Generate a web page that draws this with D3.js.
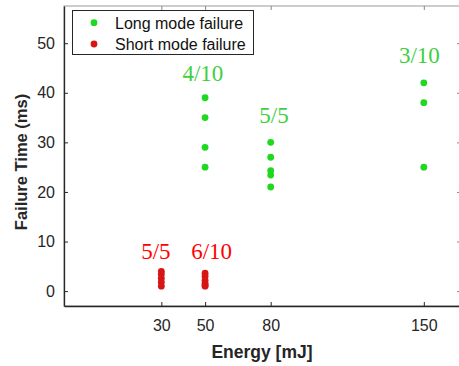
<!DOCTYPE html>
<html>
<head>
<meta charset="utf-8">
<script src="https://cdn.jsdelivr.net/npm/d3@7"></script>
<style>
  body { margin: 0; background: #fff; }
  text { font-family: "Liberation Sans", Arial, sans-serif; }
</style>
</head>
<body>
<div id="chart"></div>
<script>

// data
var energyTicks = [30, 50, 80, 150];
var timeTicks = [0, 10, 20, 30, 40, 50];

var longEnergy = [50, 50, 50, 50, 80, 80, 80, 80, 80, 150, 150, 150];
var longTime   = [39, 35, 29, 25, 30, 27, 24.3, 23.4, 21, 42, 38, 25];

var shortEnergy = [30, 30, 30, 30, 30, 50, 50, 50, 50, 50, 50];
var shortTime   = [4, 3.4, 2.6, 1.8, 1, 3.6, 3, 2.2, 1.6, 1.2, 1];

var labelText   = ["4/10", "5/5", "3/10", "5/5", "6/10"];
var labelEnergy = [49, 81.5, 148, 27.5, 53];
var labelTime   = [42.3, 33.9, 46, 6.5, 6.5];
var labelKind   = ["long", "long", "long", "short", "short"];

var width = 459, height = 366;
var margin = {left: 64, top: 6, right: -2, bottom: 60};

var green = "#1fd81f", red = "#d81515";
var textGreen = "#3fcf3f", textRed = "#ff0000";
var axisColor = "#262626";

var svg = d3.select("#chart")
  .append("svg")
  .attr("width", width)
  .attr("height", height);

var x = d3.scaleLinear()
  .domain([-14.5, 167])
  .range([margin.left, width - margin.right]);

var y = d3.scaleLinear()
  .domain([-3, 57.5])
  .range([height - margin.bottom, margin.top]);

// box
svg.append("rect")
  .attr("x", margin.left).attr("y", margin.top)
  .attr("width", x.range()[1] - margin.left)
  .attr("height", y.range()[0] - margin.top)
  .attr("fill", "none")
  .attr("stroke", "#9a9a9a")
  .attr("stroke-width", 1);

var xAxis = svg.append("g")
  .attr("transform", "translate(0," + y.range()[0] + ")")
  .call(d3.axisBottom(x).tickValues(energyTicks).tickSizeInner(-4).tickSizeOuter(0).tickPadding(14));

var yAxis = svg.append("g")
  .attr("transform", "translate(" + margin.left + ",0)")
  .call(d3.axisLeft(y).tickValues(timeTicks).tickSizeInner(-4).tickSizeOuter(0).tickPadding(9));

// mirrored ticks on top and right
svg.append("g")
  .attr("transform", "translate(0," + margin.top + ")")
  .call(d3.axisTop(x).tickValues(energyTicks).tickSizeInner(-4).tickSizeOuter(0).tickFormat(""))
  .call(function(g){ g.select(".domain").remove(); g.selectAll("line").attr("stroke", "#888"); });

svg.append("g")
  .attr("transform", "translate(" + x.range()[1] + ",0)")
  .call(d3.axisRight(y).tickValues(timeTicks).tickSizeInner(-4).tickSizeOuter(0).tickFormat(""))
  .call(function(g){ g.select(".domain").remove(); g.selectAll("line").attr("stroke", "#888"); });

[xAxis, yAxis].forEach(function(g){
  g.select(".domain").attr("stroke", axisColor).attr("stroke-width", 1.3);
  g.selectAll("line").attr("stroke", axisColor);
  g.selectAll("text")
    .attr("fill", axisColor)
    .style("font-size", "16px")
    .style("font-family", "'Liberation Sans', Arial, sans-serif");
});

// axis titles
svg.append("text")
  .attr("x", 262)
  .attr("y", 358)
  .attr("text-anchor", "middle")
  .attr("fill", axisColor)
  .style("font-size", "17.5px")
  .style("font-weight", "bold")
  .text("Energy [mJ]");

svg.append("text")
  .attr("transform", "translate(27," + ((margin.top + y.range()[0]) / 2 + 6) + ") rotate(-90)")
  .attr("text-anchor", "middle")
  .attr("fill", axisColor)
  .style("font-size", "16.5px")
  .style("font-weight", "bold")
  .text("Failure Time (ms)");

// points
var longPts = longEnergy.map(function(e, i){ return {e: e, t: longTime[i]}; });
var shortPts = shortEnergy.map(function(e, i){ return {e: e, t: shortTime[i]}; });

svg.selectAll(".long")
  .data(longPts)
  .enter().append("circle")
  .attr("class", "long")
  .attr("cx", function(d){ return x(d.e); })
  .attr("cy", function(d){ return y(d.t); })
  .attr("r", 3.4)
  .attr("fill", green);

svg.selectAll(".short")
  .data(shortPts)
  .enter().append("circle")
  .attr("class", "short")
  .attr("cx", function(d){ return x(d.e); })
  .attr("cy", function(d){ return y(d.t); })
  .attr("r", 3.4)
  .attr("fill", red);

// count labels
svg.selectAll(".count")
  .data(labelText)
  .enter().append("text")
  .attr("class", "count")
  .attr("x", function(d, i){ return x(labelEnergy[i]); })
  .attr("y", function(d, i){ return y(labelTime[i]); })
  .attr("text-anchor", "middle")
  .attr("fill", function(d, i){ return labelKind[i] == "long" ? textGreen : textRed; })
  .style("font-family", "'Liberation Serif', 'Times New Roman', serif")
  .style("font-size", "23px")
  .text(function(d){ return d; });

// legend
var legend = svg.append("g");
legend.append("rect")
  .attr("x", 72.5).attr("y", 10.5)
  .attr("width", 181).attr("height", 44)
  .attr("fill", "#fff")
  .attr("stroke", axisColor)
  .attr("stroke-width", 1);

var legendItems = [{name: "Long mode failure", color: green}, {name: "Short mode failure", color: red}];
legend.selectAll(".item")
  .data(legendItems)
  .enter().append("g")
  .attr("class", "item")
  .attr("transform", function(d, i){ return "translate(0," + (22.7 + i * 21.3) + ")"; })
  .each(function(d){
    var g = d3.select(this);
    g.append("circle").attr("cx", 94).attr("cy", 0).attr("r", 3.4).attr("fill", d.color);
    g.append("text").attr("x", 115).attr("y", 5.8)
      .attr("fill", "#111")
      .style("font-size", "16px")
      .text(d.name);
  });

</script>
</body>
</html>
